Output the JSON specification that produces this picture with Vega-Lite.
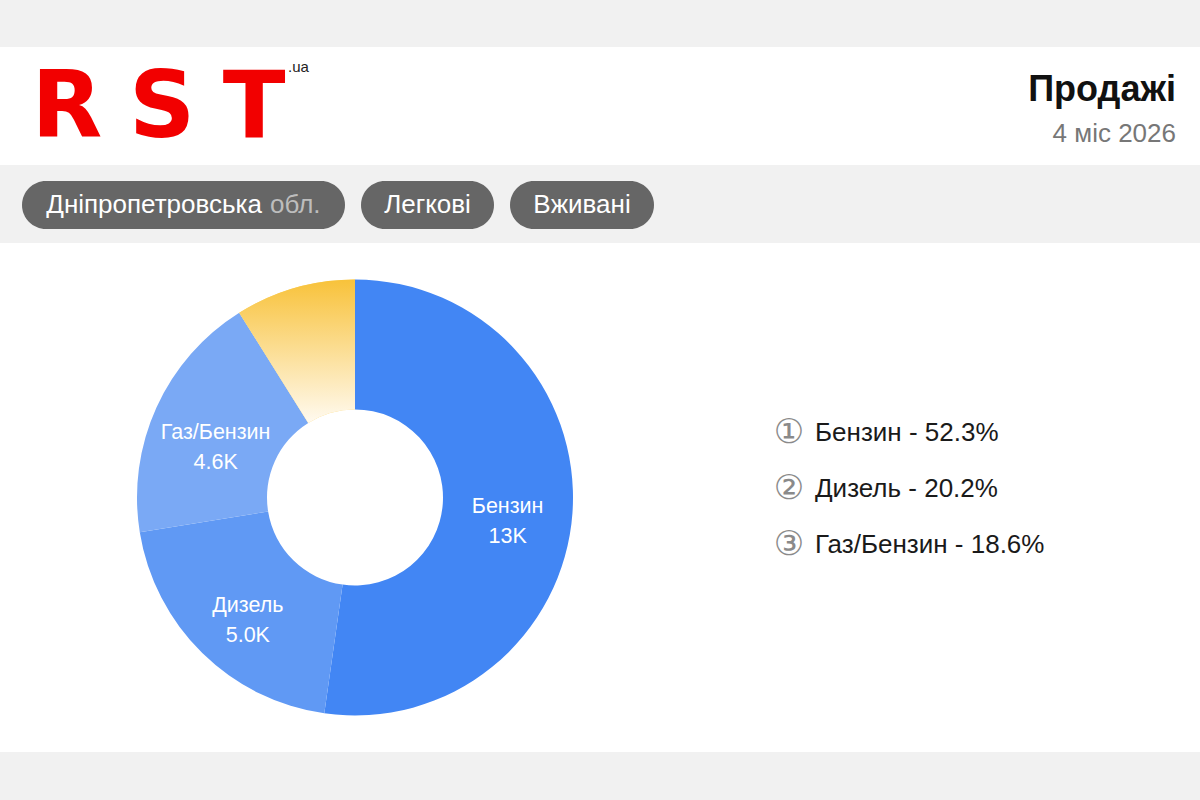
{
  "$schema": "https://vega.github.io/schema/vega-lite/v6.json",
  "background": "#f1f1f1",
  "padding": {"top": 47, "bottom": 48, "left": 0, "right": 0},
  "config": {"font": "Liberation Sans", "view": {"stroke": null}, "concat": {"spacing": 0}},
  "spacing": 0,
  "vconcat": [
    {
      "width": 1200,
      "height": 118,
      "view": {"fill": "#ffffff", "stroke": null},
      "data": {"values": [{"l1": "R", "l2": "S", "l3": "T", "domain": ".ua", "title": "Продажі", "period": "4 міс 2026"}]},
      "layer": [
        {"mark": {"type": "text", "x": 67, "y": 90, "align": "center", "baseline": "alphabetic", "font": "DejaVu Sans", "fontWeight": "bold", "fontSize": 92, "color": "#f20000"}, "encoding": {"text": {"field": "l1"}}},
        {"mark": {"type": "text", "x": 162, "y": 90, "align": "center", "baseline": "alphabetic", "font": "DejaVu Sans", "fontWeight": "bold", "fontSize": 92, "color": "#f20000"}, "encoding": {"text": {"field": "l2"}}},
        {"mark": {"type": "text", "x": 254, "y": 90, "align": "center", "baseline": "alphabetic", "font": "DejaVu Sans", "fontWeight": "bold", "fontSize": 92, "color": "#f20000"}, "encoding": {"text": {"field": "l3"}}},
        {"mark": {"type": "text", "x": 288, "y": 25, "align": "left", "baseline": "alphabetic", "fontSize": 15, "color": "#222222"}, "encoding": {"text": {"field": "domain"}}},
        {"mark": {"type": "text", "x": 1176, "y": 54, "align": "right", "baseline": "alphabetic", "fontSize": 36, "fontWeight": "bold", "color": "#111111"}, "encoding": {"text": {"field": "title"}}},
        {"mark": {"type": "text", "x": 1176, "y": 95, "align": "right", "baseline": "alphabetic", "fontSize": 26, "color": "#777777"}, "encoding": {"text": {"field": "period"}}}
      ]
    },
    {
      "spacing": 16,
      "hconcat": [
        {"width": 6, "height": 78, "data": {"values": [{"t": ""}]}, "mark": {"type": "text"}, "encoding": {"text": {"field": "t"}}},
        {
          "width": 323,
          "height": 78,
          "data": {"values": [{"region": "Дніпропетровська", "suffix": "обл."}]},
          "layer": [
            {"mark": {"type": "rect", "x": 0, "x2": 323, "y": 16, "y2": 64, "cornerRadius": 24, "color": "#666666"}, "encoding": {}},
            {"mark": {"type": "text", "x": 240, "y": 40, "align": "right", "baseline": "middle", "fontSize": 26, "color": "#ffffff"}, "encoding": {"text": {"field": "region"}}},
            {"mark": {"type": "text", "x": 248, "y": 40, "align": "left", "baseline": "middle", "fontSize": 26, "color": "#bdbdbd"}, "encoding": {"text": {"field": "suffix"}}}
          ]
        },
        {
          "width": 133,
          "height": 78,
          "data": {"values": [{"tag": "Легкові"}]},
          "layer": [
            {"mark": {"type": "rect", "x": 0, "x2": 133, "y": 16, "y2": 64, "cornerRadius": 24, "color": "#666666"}, "encoding": {}},
            {"mark": {"type": "text", "x": 66.5, "y": 40, "align": "center", "baseline": "middle", "fontSize": 26, "color": "#ffffff"}, "encoding": {"text": {"field": "tag"}}}
          ]
        },
        {
          "width": 144,
          "height": 78,
          "data": {"values": [{"tag": "Вживані"}]},
          "layer": [
            {"mark": {"type": "rect", "x": 0, "x2": 144, "y": 16, "y2": 64, "cornerRadius": 24, "color": "#666666"}, "encoding": {}},
            {"mark": {"type": "text", "x": 72, "y": 40, "align": "center", "baseline": "middle", "fontSize": 26, "color": "#ffffff"}, "encoding": {"text": {"field": "tag"}}}
          ]
        }
      ]
    },
    {
      "spacing": 0,
      "hconcat": [
        {
          "width": 710,
          "height": 509,
          "view": {"fill": "#ffffff", "stroke": null},
          "data": {"values": [
            {"fuel": "Бензин", "count": 12900, "label": "13K", "order": 1},
            {"fuel": "Дизель", "count": 4990, "label": "5.0K", "order": 2},
            {"fuel": "Газ/Бензин", "count": 4600, "label": "4.6K", "order": 3},
            {"fuel": "Інше", "count": 2200, "label": "", "order": 4}
          ]},
          "layer": [
            {
              "mark": {"type": "arc", "radius": 218, "radius2": 88},
              "encoding": {
                "theta": {"field": "count", "type": "quantitative", "stack": true},
                "order": {"field": "order", "type": "quantitative", "sort": "ascending"},
                "color": {"field": "fuel", "type": "nominal", "legend": null,
                  "scale": {"domain": ["Бензин", "Дизель", "Газ/Бензин", "Інше"], "range": ["#4286f4", "#6099f4", "#7aa9f5", "#fbd66f"]}}
              }
            },
            {
              "transform": [
                {"stack": "count", "groupby": [], "sort": [{"field": "order", "order": "ascending"}], "as": ["v0", "v1"]},
                {"filter": "datum.fuel === 'Інше'"}
              ],
              "mark": {"type": "arc", "radius": 218, "radius2": 88,
                "fill": {"gradient": "linear", "x1": 0, "y1": 0, "x2": 0, "y2": 1,
                  "stops": [{"offset": 0, "color": "#f8c23a"}, {"offset": 1, "color": "#fffaf0"}]}},
              "encoding": {
                "theta": {"field": "v0", "type": "quantitative"},
                "theta2": {"field": "v1"}
              }
            },
            {
              "transform": [{"filter": "datum.label !== ''"}],
              "mark": {"type": "text", "radius": 153, "dy": -1, "fontSize": 21.5, "color": "#ffffff", "align": "center", "baseline": "middle"},
              "encoding": {
                "theta": {"field": "count", "type": "quantitative", "stack": true},
                "order": {"field": "order", "type": "quantitative", "sort": "ascending"},
                "text": {"field": "fuel"}
              }
            },
            {
              "transform": [{"filter": "datum.label !== ''"}],
              "mark": {"type": "text", "radius": 153, "dy": 29, "fontSize": 21.5, "color": "#ffffff", "align": "center", "baseline": "middle"},
              "encoding": {
                "theta": {"field": "count", "type": "quantitative", "stack": true},
                "order": {"field": "order", "type": "quantitative", "sort": "ascending"},
                "text": {"field": "label"}
              }
            }
          ]
        },
        {
          "width": 490,
          "height": 509,
          "view": {"fill": "#ffffff", "stroke": null},
          "data": {"values": [
            {"rank": 1, "num": "①", "entry": "Бензин - 52.3%"},
            {"rank": 2, "num": "②", "entry": "Дизель - 20.2%"},
            {"rank": 3, "num": "③", "entry": "Газ/Бензин - 18.6%"}
          ]},
          "layer": [
            {
              "mark": {"type": "text", "x": 79, "align": "center", "baseline": "middle", "font": "DejaVu Sans", "fontSize": 34, "color": "#8a8a8a"},
              "encoding": {
                "y": {"field": "rank", "type": "ordinal", "scale": {"type": "point", "range": [190, 302], "padding": 0}, "axis": null},
                "text": {"field": "num"}
              }
            },
            {
              "mark": {"type": "text", "x": 105, "align": "left", "baseline": "middle", "fontSize": 26, "color": "#1a1a1a"},
              "encoding": {
                "y": {"field": "rank", "type": "ordinal", "scale": {"type": "point", "range": [190, 302], "padding": 0}, "axis": null},
                "text": {"field": "entry"}
              }
            }
          ]
        }
      ]
    }
  ]
}
